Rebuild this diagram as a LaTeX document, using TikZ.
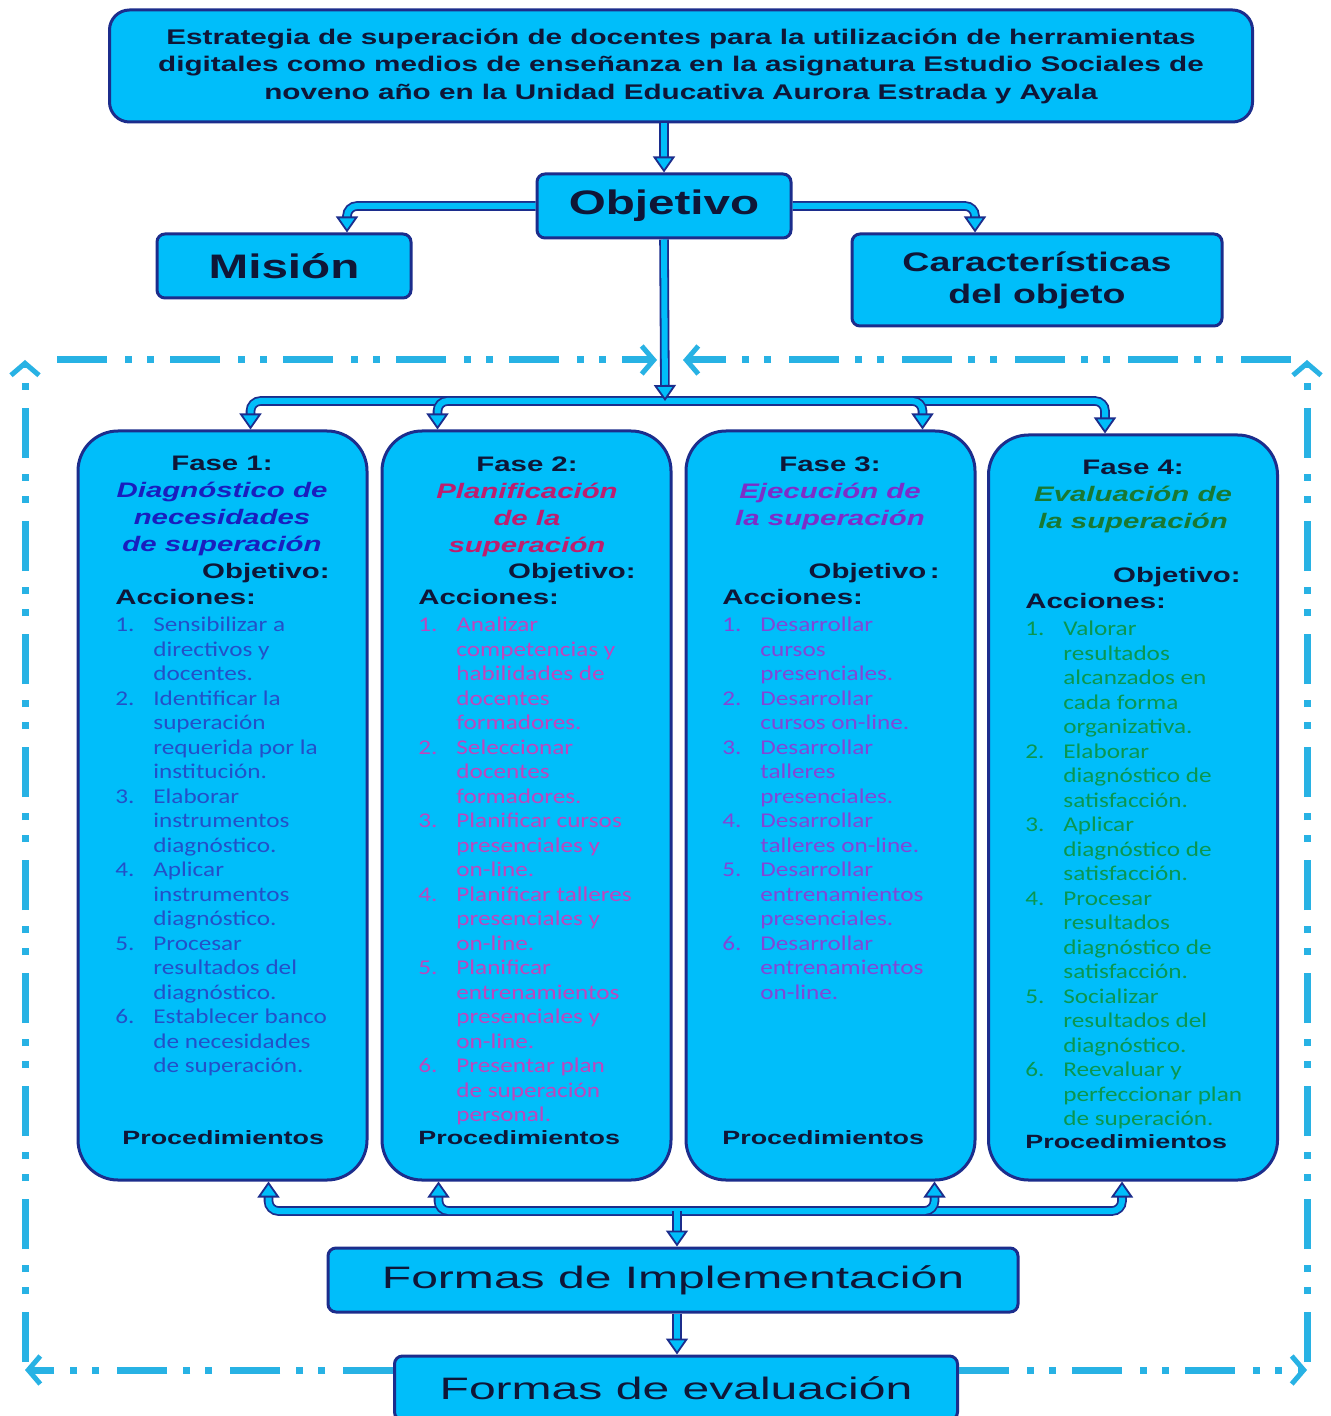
\documentclass[tikz,border=0pt]{standalone}
\usepackage{fontspec}
\setmainfont{Liberation Sans}
\newfontfamily\ancho[FakeStretch=1.4]{Liberation Sans}
\newfontfamily\anchoF[FakeStretch=1.55]{Liberation Sans}
\newfontfamily\calib[FakeStretch=1.2]{Carlito}
\usetikzlibrary{arrows.meta,positioning}

\definecolor{skyfill}{RGB}{0,190,250}
\definecolor{navyline}{RGB}{28,45,140}
\definecolor{loopblue}{RGB}{40,178,228}
\definecolor{textdark}{RGB}{15,22,55}
\definecolor{faseuno}{RGB}{25,30,190}
\definecolor{listuno}{RGB}{35,80,200}
\definecolor{fasedos}{RGB}{190,30,110}
\definecolor{listdos}{RGB}{190,70,190}
\definecolor{fasetres}{RGB}{125,45,200}
\definecolor{listtres}{RGB}{130,70,215}
\definecolor{fasecuatro}{RGB}{25,120,50}
\definecolor{listcuatro}{RGB}{10,150,80}

\newcommand\acciones[1]{\begin{tabular}{@{}p{19pt}@{}l@{}}#1\end{tabular}}

\begin{document}
\begin{tikzpicture}[x=0.5pt,y=-0.5pt,
    caja/.style={draw=navyline, line width=1.5pt, fill=skyfill, text=textdark, align=center, rounded corners=4pt, inner sep=0pt},
    grande/.style={font=\ancho\bfseries\fontsize{17}{20}\selectfont},
    formas/.style={font=\anchoF\fontsize{15.5}{18}\selectfont},
    fasebox/.style={caja, rounded corners=20pt, minimum width=144.5pt, minimum height=374.5pt},
    conn/.style={draw=navyline, line width=0.9pt, double=skyfill, double distance=3pt, rounded corners=5pt, -{Triangle[length=8pt,width=11pt,fill=skyfill]}},
    lazo/.style={draw=loopblue, line width=3.5pt, dash pattern=on 25pt off 9pt on 3.5pt off 7.5pt on 3.5pt off 8pt, -{Straight Barb[length=6pt,width=14pt,line width=2.5pt]}},
    etiq/.style={inner sep=0pt, text=textdark, font=\ancho\bfseries\fontsize{10.5}{13.5}\selectfont},
    titulo/.style={etiq, align=center, anchor=north},
    lista/.style={inner sep=0pt, anchor=north west, font=\calib\fontsize{10.5}{12.25}\selectfont}]
    \useasboundingbox[fill=white] (0,0) rectangle (1330,1416);

    % cabecera
    \node[caja, rounded corners=10pt, minimum width=571.5pt, minimum height=56pt, font=\ancho\bfseries\fontsize{10.6}{13.75}\selectfont] (head) at (681,66)
        {Estrategia de superación de docentes para la utilización de herramientas\\
         digitales como medios de enseñanza en la asignatura Estudio Sociales de\\
         noveno año en la Unidad Educativa Aurora Estrada y Ayala};
    \node[caja, grande, minimum width=127pt, minimum height=32pt] (obj) at (664,206) {Objetivo};
    \node[caja, grande, minimum width=127pt, minimum height=32pt] (mis) at (284,266) {Misión};
    \node[caja, minimum width=185pt, minimum height=46pt, font=\ancho\bfseries\fontsize{13.4}{16}\selectfont] (car) at (1037,280) {Características\\ del objeto};

    % fases
    \node[fasebox] (fase1) at (222.5,805.5) {};
    \node[fasebox] (fase2) at (526.5,805.5) {};
    \node[fasebox] (fase3) at (830.5,805.5) {};
    \node[fasebox, minimum height=372.5pt] (fase4) at (1133,807.5) {};

    \node[titulo] (tit1) at (222,456) {Fase 1:\\ \color{faseuno}\itshape Diagnóstico de\\ \color{faseuno}\itshape necesidades\\ \color{faseuno}\itshape de superación};
    \node[titulo] (tit2) at (527,456) {Fase 2:\\ \color{fasedos}\itshape Planificación\\ \color{fasedos}\itshape de la\\ \color{fasedos}\itshape superación};
    \node[titulo] (tit3) at (830,456) {Fase 3:\\ \color{fasetres}\itshape Ejecución de\\ \color{fasetres}\itshape la superación};
    \node[titulo] (tit4) at (1133,460) {Fase 4:\\ \color{fasecuatro}\itshape Evaluación de\\ \color{fasecuatro}\itshape la superación};

    \foreach \n/\ox/\ax/\px/\oy/\ot in {1/330/115/122/0/Objetivo:, 2/636/418/418/0/Objetivo:, 3/940/722/722/0/Objetivo\,:, 4/1241/1025/1025/4/Objetivo:} {
        \node[etiq, anchor=base east] (objf\n) at (\ox,578.5+\oy) {\ot};
        \node[etiq, anchor=base west] (acc\n) at (\ax,604.5+\oy) {Acciones:};
        \node[etiq, anchor=base west, font=\ancho\bfseries\fontsize{9.6}{12}\selectfont] (proc\n) at (\px,1144+\oy) {Procedimientos};
    }

    \node[lista, text=listuno] (lst1) at (115,614) {\acciones{
        1. & Sensibilizar a\\ & directivos y\\ & docentes.\\
        2. & Identificar la\\ & superación\\ & requerida por la\\ & institución.\\
        3. & Elaborar\\ & instrumentos\\ & diagnóstico.\\
        4. & Aplicar\\ & instrumentos\\ & diagnóstico.\\
        5. & Procesar\\ & resultados del\\ & diagnóstico.\\
        6. & Establecer banco\\ & de necesidades\\ & de superación.}};
    \node[lista, text=listdos] (lst2) at (418,614) {\acciones{
        1. & Analizar\\ & competencias y\\ & habilidades de\\ & docentes\\ & formadores.\\
        2. & Seleccionar\\ & docentes\\ & formadores.\\
        3. & Planificar cursos\\ & presenciales y\\ & on-line.\\
        4. & Planificar talleres\\ & presenciales y\\ & on-line.\\
        5. & Planificar\\ & entrenamientos\\ & presenciales y\\ & on-line.\\
        6. & Presentar plan\\ & de superación\\ & personal.}};
    \node[lista, text=listtres] (lst3) at (722,614) {\acciones{
        1. & Desarrollar\\ & cursos\\ & presenciales.\\
        2. & Desarrollar\\ & cursos on-line.\\
        3. & Desarrollar\\ & talleres\\ & presenciales.\\
        4. & Desarrollar\\ & talleres on-line.\\
        5. & Desarrollar\\ & entrenamientos\\ & presenciales.\\
        6. & Desarrollar\\ & entrenamientos\\ & on-line.}};
    \node[lista, text=listcuatro] (lst4) at (1025,618) {\acciones{
        1. & Valorar\\ & resultados\\ & alcanzados en\\ & cada forma\\ & organizativa.\\
        2. & Elaborar\\ & diagnóstico de\\ & satisfacción.\\
        3. & Aplicar\\ & diagnóstico de\\ & satisfacción.\\
        4. & Procesar\\ & resultados\\ & diagnóstico de\\ & satisfacción.\\
        5. & Socializar\\ & resultados del\\ & diagnóstico.\\
        6. & Reevaluar y\\ & perfeccionar plan\\ & de superación.}};

    % formas
    \node[caja, formas, minimum width=345pt, minimum height=32pt] (impl) at (673,1280) {Formas de Implementación};
    \node[caja, formas, minimum width=281.5pt, minimum height=32pt] (eval) at (676,1388) {Formas de evaluación};

    \coordinate (hub) at (665,401);
    \coordinate (hubB) at (677,1211);
    \coordinate (tl) at (25,360);
    \coordinate (tr) at (1307,360);
    \coordinate (bl) at (25,1370);
    \coordinate (br) at (1307,1370);
    \coordinate (tcl) at (657,360);
    \coordinate (tcr) at (683,360);

    % lazo discontinuo
    \draw[lazo] (bl -| eval.west) -- (bl);
    \draw[lazo] ([yshift=4pt]bl) -- (tl);
    \draw[lazo] ([xshift=16pt]tl) -- (tcl);
    \draw[lazo] (br -| eval.east) -- (br);
    \draw[lazo] ([yshift=4pt]br) -- (tr);
    \draw[lazo] ([xshift=-8pt]tr) -- (tcr);

    % flechas
    \draw[conn] (head.south -| obj.north) -- (obj.north);
    \draw[conn] (obj.west) -| ([xshift=31.5pt]mis.north);
    \draw[conn] (obj.east) -| ([xshift=-31pt]car.north);
    \draw[conn] (hub) -| ([xshift=14pt]fase1.north);
    \draw[conn] (hub) -| ([xshift=-14pt]fase4.north);
    \draw[conn] (hub) -| ([xshift=-44.5pt]fase2.north);
    \draw[conn] (hub) -| ([xshift=46pt]fase3.north);
    \draw[conn] (obj.south) -- (hub);
    \draw[conn] (hubB) -| ([xshift=23pt]fase1.south);
    \draw[conn] (hubB) -| ([xshift=-5.5pt]fase4.south);
    \draw[conn] (hubB) -| ([xshift=-44pt]fase2.south);
    \draw[conn] (hubB) -| ([xshift=52pt]fase3.south);
    \draw[conn] (hubB) -- (hubB |- impl.north);
    \draw[conn] (impl.south -| hubB) -- (hubB |- eval.north);
\end{tikzpicture}
\end{document}
